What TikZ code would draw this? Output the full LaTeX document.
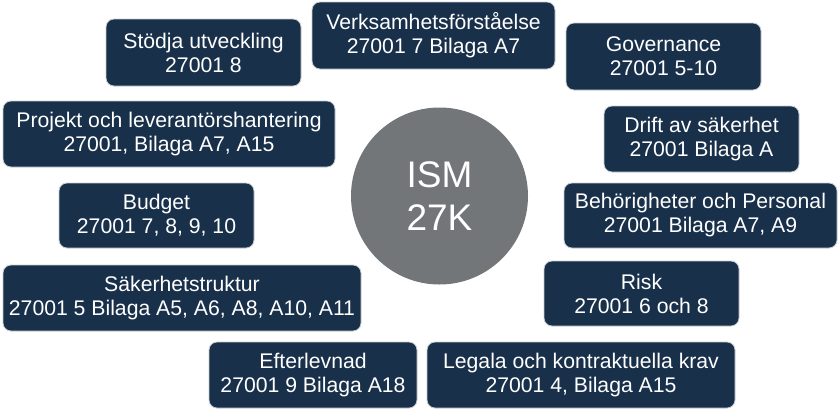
\documentclass[tikz,border=0pt]{standalone}
\usepackage{fontspec}
\setmainfont{Liberation Sans}
\definecolor{navy}{HTML}{19304A}
\definecolor{edgegray}{HTML}{C9CDD2}
\definecolor{hubgray}{HTML}{727679}
\begin{document}
\begin{tikzpicture}[x=1pt,y=-1pt,
  box/.style={draw=edgegray, line width=0.8pt, fill=navy, rounded corners=8pt,
    text=white, align=center, inner sep=0pt,
    font=\fontsize{21.2}{24}\selectfont},
  hub/.style={circle, fill=hubgray, text=white, align=center, inner sep=0pt,
    minimum size=177pt, font=\fontsize{37}{43}\selectfont}]
\useasboundingbox (0,0) rectangle (840,410);
\node[hub] (ism) at (439.5,196) {ISM\\27K};
\node[box, minimum width=195pt, minimum height=67pt] (stod) at (203.5,52.5) {Stödja utveckling\\27001 8};
\node[box, minimum width=243pt, minimum height=67pt] (verk) at (433.5,35.5) {Verksamhetsförståelse\\27001 7 Bilaga A7};
\node[box, minimum width=195pt, minimum height=67pt] (gov) at (663.5,56.5) {Governance\\27001 5-10};
\node[box, minimum width=332pt, minimum height=66pt] (proj) at (169,134) {Projekt och leverantörshantering\\27001, Bilaga A7, A15};
\node[box, minimum width=195pt, minimum height=66pt] (drift) at (701.5,139) {Drift av säkerhet\\27001 Bilaga A};
\node[box, minimum width=195pt, minimum height=65pt] (budget) at (156.5,215.5) {Budget\\27001 7, 8, 9, 10};
\node[box, minimum width=273pt, minimum height=65pt] (behor) at (700.5,215.5) {Behörigheter och Personal\\27001 Bilaga A7, A9};
\node[box, minimum width=358pt, minimum height=66pt] (sak) at (182,298) {Säkerhetstruktur\\27001 5 Bilaga A5, A6, A8, A10, A11};
\node[box, minimum width=195pt, minimum height=65pt] (risk) at (641.5,293.5) {Risk\\27001 6 och 8};
\node[box, minimum width=208pt, minimum height=66pt] (efter) at (313,375) {Efterlevnad\\27001 9 Bilaga A18};
\node[box, minimum width=308pt, minimum height=66pt] (legala) at (581,375) {Legala och kontraktuella krav\\27001 4, Bilaga A15};
\end{tikzpicture}
\end{document}
